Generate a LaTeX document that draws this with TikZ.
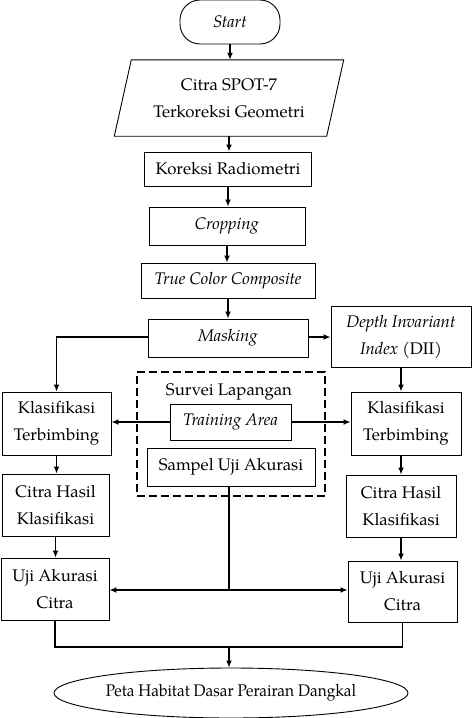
\documentclass[tikz,border=0pt]{standalone}
\usepackage{fontspec}
\setmainfont{texgyrepagella-regular.otf}[ItalicFont=texgyrepagella-italic.otf,BoldFont=texgyrepagella-bold.otf]
\usepackage{graphicx}
\usetikzlibrary{arrows.meta,shapes.geometric}
\begin{document}
\begin{tikzpicture}[x=1pt,y=-1pt,
  every node/.style={font=\fontsize{16.8}{27}\selectfont},
  box/.style={draw, line width=0.9pt, inner sep=0pt, align=center},
  conn/.style={line width=1.4pt, -{Latex[length=7pt,width=6pt]}},
  plain/.style={line width=1.4pt}]
\useasboundingbox (0,0) rectangle (473,718);
% nodes
\node[box, rounded corners=20pt, minimum width=100pt, minimum height=44pt] (start) at (230,22) {\textit{Start}};
\node[inner sep=0pt, minimum width=212pt, minimum height=76pt, align=center] (spot) at (229,98) {Citra SPOT-7\\Terkoreksi Geometri};
\draw[line width=0.9pt] ([xshift=8.5pt]spot.north west) -- ([xshift=8.5pt]spot.north east) -- ([xshift=-8.5pt]spot.south east) -- ([xshift=-8.5pt]spot.south west) -- cycle;
\node[box, minimum width=167pt, minimum height=34pt] (korad) at (228,169) {Koreksi Radiometri};
\node[box, minimum width=156pt, minimum height=38pt] (crop) at (227,226) {\textit{Cropping}};
\node[box, minimum width=174pt, minimum height=35pt] (tcc) at (228,280.5) {\textit{True Color Composite}};
\node[box, minimum width=160pt, minimum height=38pt] (mask) at (228,338) {\textit{Masking}};
\node[box, minimum width=140pt, minimum height=61pt] (dii) at (401,336.5) {\textit{Depth Invariant}\\\textit{Index} (DII)};
\node[box, minimum width=109pt, minimum height=63pt] (klasL) at (56.5,423.5) {Klasifikasi\\Terbimbing};
\node[box, minimum width=107pt, minimum height=62pt] (citraL) at (55.5,505) {Citra Hasil\\Klasifikasi};
\node[box, minimum width=108pt, minimum height=62pt] (ujiL) at (55,589) {Uji Akurasi\\Citra};
\node[draw, line width=1.2pt, dash pattern=on 8pt off 4pt, minimum width=188pt, minimum height=124pt] (survey) at (231,434) {};
\node[inner sep=0pt] (surveit) at (229,392) {Survei Lapangan};
\node[box, minimum width=121pt, minimum height=36pt] (train) at (230.5,422) {\textit{Training Area}};
\node[box, minimum width=168pt, minimum height=38pt] (sampel) at (231,467) {Sampel Uji Akurasi};
\node[box, minimum width=110pt, minimum height=63pt] (klasR) at (406,423.5) {Klasifikasi\\Terbimbing};
\node[box, minimum width=110pt, minimum height=62pt] (citraR) at (401,506) {Citra Hasil\\Klasifikasi};
\node[box, minimum width=109pt, minimum height=61pt] (ujiR) at (402.5,591.5) {Uji Akurasi\\Citra};
\node[draw, ellipse, line width=0.9pt, inner sep=0pt, minimum width=308pt, minimum height=50pt] (peta) at (231,693) {\scalebox{0.92}[1]{Peta Habitat Dasar Perairan Dangkal}};
\coordinate (j1) at (229,590);
\coordinate (j2) at (229,647);
% connectors
\draw[conn] (start.south) -- (spot.north -| start.south);
\draw[conn] (spot.south) -- (spot.south |- korad.north);
\draw[conn] (korad.south) -- (korad.south |- crop.north);
\draw[conn] (crop.south) -- (crop.south |- tcc.north);
\draw[conn] (tcc.south) -- (tcc.south |- mask.north);
\draw[conn] ([yshift=1pt]mask.east) -- ([yshift=1pt]mask.east -| dii.west);
\draw[conn] ([yshift=1pt]mask.west) -| (klasL.north);
\draw[conn] (dii.south) -- (dii.south |- klasR.north);
\draw[conn] (train.west) -- (train.west -| klasL.east);
\draw[conn] (train.east) -- (train.east -| klasR.west);
\draw[conn] (klasL.south) -- (klasL.south |- citraL.north);
\draw[conn] (citraL.south) -- (citraL.south |- ujiL.north);
\draw[conn] (dii.south |- klasR.south) -- (dii.south |- citraR.north);
\draw[conn] (citraR.south) -- (citraR.south |- ujiR.north);
\draw[plain] (sampel.south -| j1) -- (j1);
\draw[conn] (j1) -- (j1 -| ujiL.east);
\draw[conn] (j1) -- (j1 -| ujiR.west);
\draw[plain] (ujiL.south) |- (j2) -| (ujiR.south);
\draw[conn] (j2) -- (peta.north -| j2);
\end{tikzpicture}
\end{document}
